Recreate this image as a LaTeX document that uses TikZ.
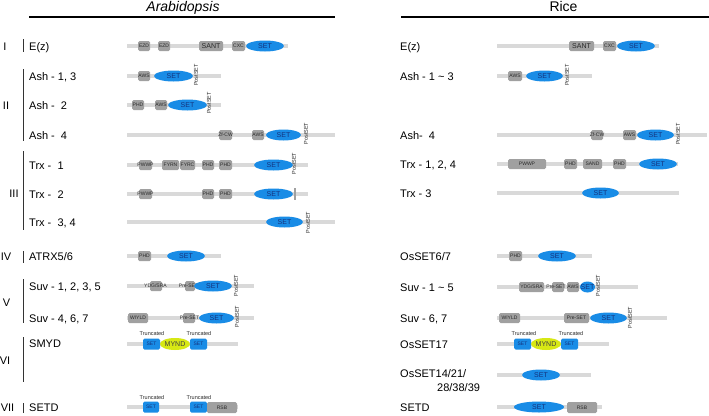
\documentclass[tikz,border=0pt]{standalone}
\usepackage{fontspec}
\setmainfont{Liberation Sans}
\usetikzlibrary{shapes.geometric}
\definecolor{barc}{RGB}{217,217,217}
\definecolor{greyc}{RGB}{160,160,160}
\definecolor{bluec}{RGB}{25,140,230}
\definecolor{setc}{RGB}{20,50,125}
\definecolor{yelc}{RGB}{215,232,20}
\definecolor{txtc}{RGB}{40,40,40}
\newcommand\myfs[1]{\fontsize{#1}{#1}\selectfont}
\newcounter{dc}
\tikzset{
  bar/.style={barc,line width=4.5pt},
  dt/.style={inner sep=0pt,text=txtc,font=\myfs{5}},
  st/.style={inner sep=0pt,text=setc,font=\myfs{7}},
  lab/.style={anchor=base west,inner sep=0pt,font=\myfs{11}},
  rom/.style={anchor=base,inner sep=0pt,font=\myfs{11}},
  vbar/.style={line width=0.8pt,black!80},
  post/.style={inner sep=0pt,rotate=90,font=\myfs{5.5},text=txtc},
  trunc/.style={inner sep=0pt,font=\myfs{5.5},text=txtc}
}
% grey box: x1 x2 y text
\newcommand\gb[4]{\fill[greyc,rounded corners=1.5pt] (#1,#3-5) rectangle (#2,#3+5);
  \stepcounter{dc}\node[dt] (g\arabic{dc}) at ({(#1+#2)/2},#3) {#4};}
% grey box with text centred elsewhere: x1 x2 y textx text
\newcommand\gbt[5]{\fill[greyc,rounded corners=1.5pt] (#1,#3-5) rectangle (#2,#3+5);
  \stepcounter{dc}\node[dt] (g\arabic{dc}) at (#4,#3) {#5};}
% SET ellipse: x1 x2 y
\newcommand\sete[3]{\fill[bluec] ({(#1+#2)/2},#3) ellipse ({(#2-#1)/2} and 5.5);
  \stepcounter{dc}\node[st] (s\arabic{dc}) at ({(#1+#2)/2},#3) {SET};}
% blue truncated SET box
\newcommand\setb[3]{\fill[bluec,rounded corners=1.5pt] (#1,#3-5.5) rectangle (#2,#3+5.5);
  \stepcounter{dc}\node[st,font=\myfs{5}] (b\arabic{dc}) at ({(#1+#2)/2},#3) {SET};}
% MYND ellipse
\newcommand\mynd[3]{\fill[yelc] ({(#1+#2)/2},#3) ellipse ({(#2-#1)/2} and 6);
  \stepcounter{dc}\node[inner sep=0pt,font=\myfs{7},text=black!75] (m\arabic{dc}) at ({(#1+#2)/2},#3) {MYND};}
% PostSET: x y
\newcommand\postset[2]{\stepcounter{dc}\node[post] (p\arabic{dc}) at (#1,#2) {PostSET};}
\newcommand\trunc[2]{\stepcounter{dc}\node[trunc] (t\arabic{dc}) at (#1,#2) {Truncated};}
\begin{document}
\begin{tikzpicture}[x=1pt,y=-1pt]
\useasboundingbox[fill=white] (0,0) rectangle (709,415);
% headers
\node[anchor=base,inner sep=0pt,font=\myfs{14}\itshape] (hA) at (183,12) {Arabidopsis};
\node[anchor=base,inner sep=0pt,font=\myfs{14}] (hR) at (563.5,12) {Rice};
\draw[line width=2pt] (29,16.7) -- (335,16.7);
\draw[line width=2pt] (401,16.7) -- (709,16.7);
% roman numerals and group bars
\node[rom] (r1) at (5,50) {I};
\node[rom] (r2) at (6,109) {II};
\node[rom] (r3) at (14,197) {III};
\node[rom] (r4) at (6,260) {IV};
\node[rom] (r5) at (6.5,306) {V};
\node[rom] (r6) at (5,364) {VI};
\node[rom] (r7) at (7.5,411) {VII};
\draw[vbar] (23.5,39) -- (23.5,52);
\draw[vbar] (23.5,69) -- (23.5,141);
\draw[vbar] (23.5,151) -- (23.5,230);
\draw[vbar] (23.5,251) -- (23.5,263);
\draw[vbar] (23.5,279) -- (23.5,323);
\draw[vbar] (23.5,337) -- (23.5,382);
\draw[vbar] (23.5,403) -- (23.5,413);
% ---------------- LEFT labels
\node[lab] (L1) at (29,50) {E(z)};
\node[lab] (L2) at (29,80) {Ash - 1, 3};
\node[lab] (L3) at (29,109) {Ash -\ \ 2};
\node[lab] (L4) at (29,139) {Ash -\ \ 4};
\node[lab] (L5) at (29,169) {Trx -\ \ 1};
\node[lab] (L6) at (29,198) {Trx -\ \ 2};
\node[lab] (L7) at (29,226) {Trx -\ \ 3, 4};
\node[lab] (L8) at (29,260) {ATRX5/6};
\node[lab] (L9) at (29,290) {Suv - 1, 2, 3, 5};
\node[lab] (L10) at (29,322) {Suv - 4, 6, 7};
\node[lab] (L11) at (29,347) {SMYD};
\node[lab] (L12) at (29,411) {SETD};
% E(z)
\draw[bar] (127,46) -- (288,46);
\gb{138}{150}{46}{EZD}\gb{158}{170}{46}{EZD}
\fill[greyc,rounded corners=1.5pt] (199,41) rectangle (223,51);
\node[dt,font=\myfs{7}] (sant1) at (211,46) {SANT};
\gb{232}{245}{46}{CXC}\sete{246}{284}{46}
% Ash-1,3
\draw[bar] (127,76) -- (221,76);
\gb{138}{150}{76}{AWS}\sete{154}{193}{76}\postset{196}{75}
% Ash-2
\draw[bar] (127,105) -- (221,105);
\gb{132}{144}{105}{PHD}\gb{155}{167}{105}{AWS}\sete{168}{207}{105}\postset{209}{103}
% Ash-4
\draw[bar] (127,135) -- (335,135);
\gb{219}{232}{135}{Zf-CW}\gb{252}{264}{135}{AWS}\sete{266}{301}{135}\postset{306}{133.5}
% Trx-1
\draw[bar] (127,165) -- (308,165);
\gb{139}{152}{165}{PWWP}\gb{162}{179}{165}{FYRN}\gb{180}{195}{165}{FYRC}
\gb{202}{214}{165}{PHD}\gb{219}{232}{165}{PHD}\sete{254}{293}{165}\postset{294}{163.5}
% Trx-2
\draw[bar] (127,194) -- (308,194);
\gb{139}{152}{194}{PWWP}\gb{202}{214}{194}{PHD}\gb{219}{232}{194}{PHD}\sete{254}{293}{194}
\fill[greyc] (293.5,188) rectangle (296,199.5);
% Trx-3,4
\draw[bar] (127,222) -- (335,222);
\sete{266}{303}{222}\postset{308}{222.5}
% ATRX5/6
\draw[bar] (127,256) -- (221,256);
\gb{138}{151}{256}{PHD}\sete{167}{205}{256}
% Suv-1,2,3,5
\draw[bar] (127,286) -- (254,286);
\gbt{150}{162}{286}{155.5}{YDG/SRA}\gbt{185}{195}{286}{188.5}{Pre-SET}
\sete{194}{232}{286}\postset{236}{285.5}
% Suv-4,6,7
\draw[bar] (127,318) -- (254,318);
\gb{128}{148}{318}{WIYLD}\gbt{183}{195}{318}{189.5}{Pre-SET}
\sete{199}{234}{318}\postset{237}{316.5}
% SMYD
\draw[bar] (127,344) -- (238,344);
\setb{143}{160}{344}\mynd{160}{190}{344}\setb{190}{207}{344}
\trunc{152}{334}\trunc{199}{334}
% SETD
\draw[bar] (127,407) -- (238,407);
\setb{143}{159}{407}\setb{190}{207}{407}
\fill[greyc,rounded corners=1.5pt] (207,402) rectangle (237,413);
\node[dt] (rsb1) at (222,407.5) {RSB};
\trunc{152}{398}\trunc{199}{398}
% ---------------- RIGHT labels
\node[lab] (R1) at (400,50) {E(z)};
\node[lab] (R2) at (400,80) {Ash - 1 \textasciitilde{} 3};
\node[lab] (R3) at (400,139) {Ash-\ \ 4};
\node[lab] (R4) at (400,168) {Trx - 1, 2, 4};
\node[lab] (R5) at (400,197) {Trx - 3};
\node[lab] (R6) at (400,260) {OsSET6/7};
\node[lab] (R7) at (400,291) {Suv - 1 \textasciitilde{} 5};
\node[lab] (R8) at (400,322) {Suv - 6, 7};
\node[lab] (R9) at (400,348) {OsSET17};
\node[lab] (R10) at (400,377) {OsSET14/21/};
\node[lab] (R11) at (437,391) {28/38/39};
\node[lab] (R12) at (400,411) {SETD};
% E(z)
\draw[bar] (497,46) -- (659,46);
\fill[greyc,rounded corners=1.5pt] (569,41) rectangle (594,51);
\node[dt,font=\myfs{7}] (sant2) at (581.5,46) {SANT};
\gb{603}{616}{46}{CXC}\sete{617}{655}{46}
% Ash-1~3
\draw[bar] (497,76) -- (592,76);
\gb{508}{522}{76}{AWS}\sete{526}{563}{76}\postset{567}{75}
% Ash-4
\draw[bar] (497,135) -- (707,135);
\gb{591}{603}{135}{Zf-CW}\gb{623}{636}{135}{AWS}\sete{637}{674}{135}\postset{678}{134}
% Trx-1,2,4
\draw[bar] (497,164) -- (678,164);
\gb{508}{546}{164}{PWWP}\gb{564}{577}{164}{PHD}\gb{583}{602}{164}{SAND}
\gb{613}{626}{164}{PHD}\sete{639}{677}{164}
% Trx-3
\draw[bar] (497,193) -- (679,193);
\sete{582}{619}{193}
% OsSET6/7
\draw[bar] (497,256) -- (592,256);
\gb{509}{522}{256}{PHD}\sete{538}{576}{256}
% Suv-1~5
\draw[bar] (497,287) -- (638,287);
\gb{519}{544}{287}{YDG/SRA}\gbt{552}{564}{287}{556}{Pre-SET}\gb{567}{579}{287}{AWS}
\sete{580}{595}{287}\postset{598}{285.5}
% Suv-6,7
\draw[bar] (497,318) -- (667,318);
\gb{499}{520}{318}{WIYLD}\gb{564}{589}{318}{Pre-SET}\sete{590}{627}{318}\postset{630}{317.5}
% OsSET17
\draw[bar] (497,344) -- (609,344);
\setb{514}{531}{344}\mynd{531}{561}{344}\setb{561}{578}{344}
\trunc{524}{334}\trunc{571}{334}
% OsSET14/21/28/38/39
\draw[bar] (497,375) -- (591,375);
\sete{522}{560}{375}
% SETD
\draw[bar] (497,407) -- (602,407);
\sete{514}{564}{407}
\fill[greyc,rounded corners=1.5pt] (567,402) rectangle (597,413);
\node[dt] (rsb2) at (582,407.5) {RSB};
\end{tikzpicture}
\end{document}
